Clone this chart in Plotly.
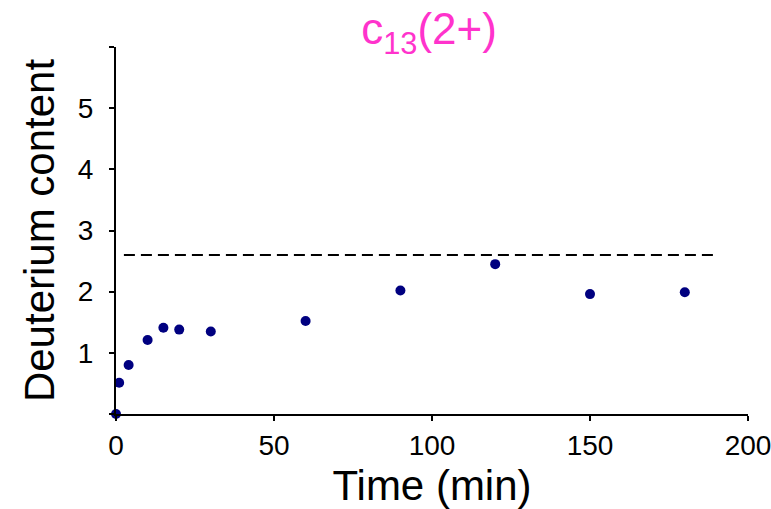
import plotly.graph_objects as go

# Hydrogen/deuterium exchange time course for the c13(2+) fragment
time_min = [0, 1, 4, 10, 15, 20, 30, 60, 90, 120, 150, 180]
deuterium = [0.0, 0.51, 0.80, 1.21, 1.41, 1.38, 1.35, 1.52, 2.02, 2.45, 1.96, 1.99]

# Theoretical maximum deuterium content (dashed reference line)
max_deuterium = 2.60
max_line_span = [2.5, 190]

x_ticks = [0, 50, 100, 150, 200]
y_ticks = [0, 1, 2, 3, 4, 5, 6]
y_tick_text = ["", "1", "2", "3", "4", "5", ""]

FONT = "Arial, Liberation Sans, sans-serif"

fig = go.Figure()

fig.add_trace(go.Scatter(
    x=max_line_span,
    y=[max_deuterium, max_deuterium],
    mode="lines",
    line=dict(color="black", width=2, dash="11px,6px"),
    hoverinfo="skip",
    showlegend=False,
))

fig.add_trace(go.Scatter(
    x=time_min,
    y=deuterium,
    mode="markers",
    marker=dict(color="#000080", size=10),
    cliponaxis=False,
    showlegend=False,
))

fig.update_layout(
    width=771,
    height=509,
    margin=dict(l=116, r=23, t=47, b=95, autoexpand=False),
    paper_bgcolor="white",
    plot_bgcolor="white",
    font=dict(family=FONT, color="black"),
    title=dict(
        text="c<sub>13</sub>(2+)",
        font=dict(family=FONT, size=44, color="#ff33cc"),
        x=429 / 771,
        xanchor="center",
        y=1 - 29 / 509,
        yanchor="middle",
    ),
)

fig.update_xaxes(
    range=[0, 200],
    tickvals=x_ticks,
    ticks="outside",
    ticklen=5,
    tickwidth=2,
    tickcolor="black",
    tickfont=dict(size=28),
    ticklabeloverflow="allow",
    automargin=False,
    showline=True,
    linecolor="black",
    linewidth=2,
    showgrid=False,
    zeroline=False,
    title=dict(text="Time (min)", font=dict(size=42), standoff=16),
)

fig.update_yaxes(
    range=[0, 6],
    tickvals=y_ticks,
    ticktext=y_tick_text,
    ticks="outside",
    ticklen=5,
    tickwidth=2,
    tickcolor="black",
    tickfont=dict(size=28),
    ticklabelstandoff=10,
    automargin=False,
    showline=True,
    linecolor="black",
    linewidth=2,
    showgrid=False,
    zeroline=False,
    title=dict(text="Deuterium content", font=dict(size=42), standoff=10),
)

fig.write_html("out.html")
